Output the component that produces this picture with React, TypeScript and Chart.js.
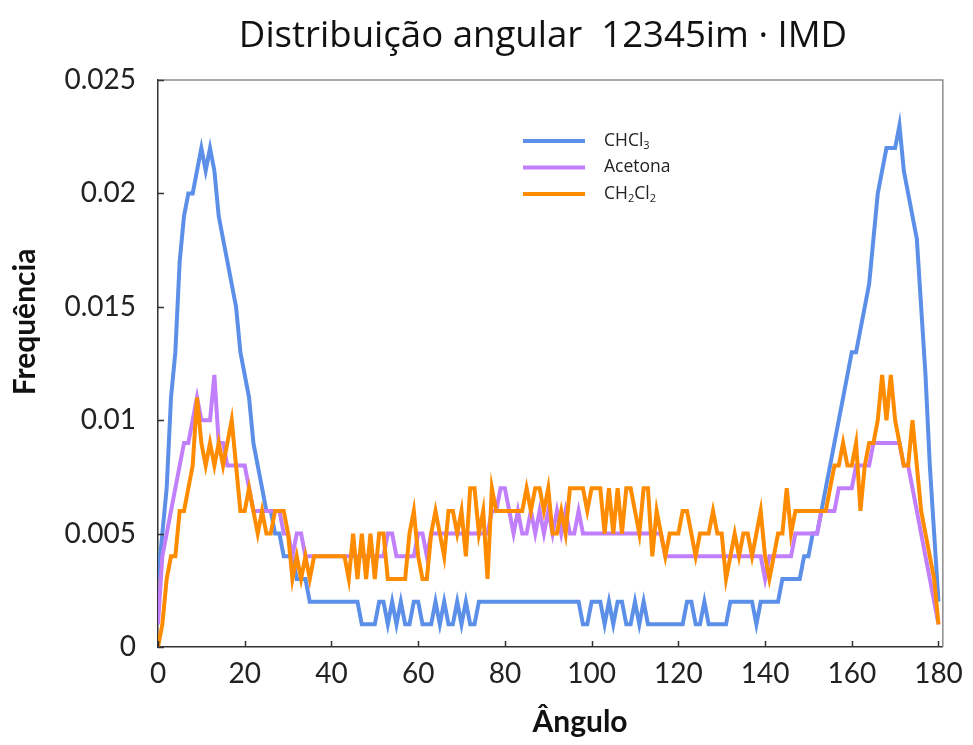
import React, { useEffect, useRef } from "react";
import { Chart, registerables } from "chart.js";

Chart.register(...registerables);

const TITLE = "Distribuição angular  12345im · IMD";
const X_TITLE = "Ângulo";
const Y_TITLE = "Frequência";

const seriesNames = ["CHCl₃", "Acetona", "CH₂Cl₂"];
const seriesColors = ["#5b8fe8", "#c27ffb", "#ff8c00"];

const xTickLabels = ["0", "20", "40", "60", "80", "100", "120", "140", "160", "180"];
const yTickLabels = ["0", "0.005", "0.01", "0.015", "0.02", "0.025"];

const angles = [
  0, 1, 2, 3, 4, 5, 6, 7, 8, 9, 10, 11, 12, 13, 14, 15, 16, 17, 18, 19,
  20, 21, 22, 23, 24, 25, 26, 27, 28, 29, 30, 31, 32, 33, 34, 35, 36, 37, 38, 39,
  40, 41, 42, 43, 44, 45, 46, 47, 48, 49, 50, 51, 52, 53, 54, 55, 56, 57, 58, 59,
  60, 61, 62, 63, 64, 65, 66, 67, 68, 69, 70, 71, 72, 73, 74, 75, 76, 77, 78, 79,
  80, 81, 82, 83, 84, 85, 86, 87, 88, 89, 90, 91, 92, 93, 94, 95, 96, 97, 98, 99,
  100, 101, 102, 103, 104, 105, 106, 107, 108, 109, 110, 111, 112, 113, 114, 115, 116, 117, 118, 119,
  120, 121, 122, 123, 124, 125, 126, 127, 128, 129, 130, 131, 132, 133, 134, 135, 136, 137, 138, 139,
  140, 141, 142, 143, 144, 145, 146, 147, 148, 149, 150, 151, 152, 153, 154, 155, 156, 157, 158, 159,
  160, 161, 162, 163, 164, 165, 166, 167, 168, 169, 170, 171, 172, 173, 174, 175, 176, 177, 178, 179,
  180,
];

const chcl3 = [
  0.003, 0.005, 0.007, 0.011, 0.013, 0.017, 0.019, 0.02, 0.02, 0.021,
  0.022, 0.021, 0.022, 0.021, 0.019, 0.018, 0.017, 0.016, 0.015, 0.013,
  0.012, 0.011, 0.009, 0.008, 0.007, 0.006, 0.006, 0.005, 0.005, 0.004,
  0.004, 0.004, 0.003, 0.003, 0.003, 0.002, 0.002, 0.002, 0.002, 0.002,
  0.002, 0.002, 0.002, 0.002, 0.002, 0.002, 0.002, 0.001, 0.001, 0.001,
  0.001, 0.002, 0.002, 0.001, 0.002, 0.001, 0.002, 0.001, 0.001, 0.002,
  0.002, 0.001, 0.001, 0.001, 0.002, 0.001, 0.002, 0.001, 0.001, 0.002,
  0.001, 0.002, 0.001, 0.001, 0.002, 0.002, 0.002, 0.002, 0.002, 0.002,
  0.002, 0.002, 0.002, 0.002, 0.002, 0.002, 0.002, 0.002, 0.002, 0.002,
  0.002, 0.002, 0.002, 0.002, 0.002, 0.002, 0.002, 0.002, 0.001, 0.001,
  0.002, 0.002, 0.002, 0.001, 0.002, 0.001, 0.002, 0.002, 0.001, 0.001,
  0.002, 0.001, 0.002, 0.001, 0.001, 0.001, 0.001, 0.001, 0.001, 0.001,
  0.001, 0.001, 0.002, 0.002, 0.001, 0.001, 0.002, 0.001, 0.001, 0.001,
  0.001, 0.001, 0.002, 0.002, 0.002, 0.002, 0.002, 0.002, 0.001, 0.002,
  0.002, 0.002, 0.002, 0.002, 0.003, 0.003, 0.003, 0.003, 0.003, 0.004,
  0.004, 0.005, 0.005, 0.006, 0.007, 0.008, 0.009, 0.01, 0.011, 0.012,
  0.013, 0.013, 0.014, 0.015, 0.016, 0.018, 0.02, 0.021, 0.022, 0.022,
  0.022, 0.023, 0.021, 0.02, 0.019, 0.018, 0.015, 0.012, 0.008, 0.005,
  0.002,
];

const acetona = [
  0.001, 0.004, 0.005, 0.006, 0.007, 0.008, 0.009, 0.009, 0.01, 0.011,
  0.01, 0.01, 0.01, 0.012, 0.009, 0.009, 0.008, 0.008, 0.008, 0.008,
  0.008, 0.007, 0.006, 0.006, 0.006, 0.006, 0.006, 0.006, 0.006, 0.005,
  0.005, 0.004, 0.005, 0.005, 0.004, 0.004, 0.004, 0.004, 0.004, 0.004,
  0.004, 0.004, 0.004, 0.004, 0.004, 0.004, 0.004, 0.004, 0.004, 0.004,
  0.004, 0.004, 0.004, 0.005, 0.005, 0.004, 0.004, 0.004, 0.004, 0.004,
  0.005, 0.005, 0.004, 0.005, 0.005, 0.005, 0.005, 0.005, 0.005, 0.005,
  0.005, 0.005, 0.005, 0.005, 0.005, 0.005, 0.005, 0.006, 0.006, 0.007,
  0.007, 0.006, 0.005, 0.006, 0.005, 0.005, 0.006, 0.005, 0.006, 0.005,
  0.006, 0.005, 0.006, 0.005, 0.006, 0.005, 0.005, 0.006, 0.005, 0.005,
  0.005, 0.005, 0.005, 0.005, 0.005, 0.005, 0.005, 0.005, 0.005, 0.005,
  0.005, 0.005, 0.005, 0.005, 0.005, 0.005, 0.005, 0.004, 0.004, 0.004,
  0.004, 0.004, 0.004, 0.004, 0.004, 0.004, 0.004, 0.004, 0.004, 0.004,
  0.004, 0.004, 0.004, 0.004, 0.004, 0.004, 0.004, 0.004, 0.004, 0.004,
  0.003, 0.004, 0.004, 0.004, 0.004, 0.004, 0.004, 0.005, 0.005, 0.005,
  0.005, 0.005, 0.005, 0.006, 0.006, 0.006, 0.006, 0.007, 0.007, 0.007,
  0.007, 0.008, 0.008, 0.008, 0.008, 0.009, 0.009, 0.009, 0.009, 0.009,
  0.009, 0.009, 0.008, 0.008, 0.007, 0.006, 0.005, 0.004, 0.003, 0.002,
  0.001,
];

const ch2cl2 = [
  0, 0.001, 0.003, 0.004, 0.004, 0.006, 0.006, 0.007, 0.008, 0.011,
  0.009, 0.008, 0.009, 0.008, 0.009, 0.008, 0.009, 0.01, 0.008, 0.006,
  0.006, 0.007, 0.006, 0.005, 0.006, 0.005, 0.005, 0.006, 0.006, 0.006,
  0.005, 0.003, 0.004, 0.003, 0.004, 0.003, 0.004, 0.004, 0.004, 0.004,
  0.004, 0.004, 0.004, 0.004, 0.003, 0.005, 0.003, 0.005, 0.003, 0.005,
  0.003, 0.005, 0.005, 0.003, 0.003, 0.003, 0.003, 0.003, 0.005, 0.006,
  0.004, 0.003, 0.003, 0.005, 0.006, 0.005, 0.004, 0.006, 0.006, 0.005,
  0.006, 0.004, 0.007, 0.007, 0.005, 0.006, 0.003, 0.007, 0.006, 0.006,
  0.006, 0.006, 0.006, 0.006, 0.006, 0.007, 0.006, 0.007, 0.007, 0.006,
  0.007, 0.005, 0.005, 0.006, 0.005, 0.007, 0.007, 0.007, 0.007, 0.006,
  0.007, 0.007, 0.007, 0.005, 0.007, 0.005, 0.007, 0.005, 0.007, 0.007,
  0.006, 0.005, 0.007, 0.007, 0.004, 0.006, 0.005, 0.004, 0.005, 0.005,
  0.005, 0.006, 0.006, 0.005, 0.004, 0.005, 0.005, 0.005, 0.006, 0.005,
  0.005, 0.003, 0.004, 0.005, 0.004, 0.005, 0.005, 0.004, 0.005, 0.006,
  0.004, 0.003, 0.004, 0.005, 0.005, 0.007, 0.005, 0.006, 0.006, 0.006,
  0.006, 0.006, 0.006, 0.006, 0.006, 0.007, 0.008, 0.008, 0.009, 0.008,
  0.008, 0.009, 0.006, 0.008, 0.009, 0.009, 0.01, 0.012, 0.01, 0.012,
  0.01, 0.009, 0.008, 0.008, 0.01, 0.008, 0.006, 0.005, 0.004, 0.003,
  0.001,
];

const seriesValues = [chcl3, acetona, ch2cl2];

const FONT = "Lato, 'Open Sans', sans-serif";
const TITLE_FONT = "'Open Sans', Lato, sans-serif";

const framePlugin = {
  id: "frameTicks",
  afterDatasetsDraw(chart: any) {
    const { ctx, chartArea: a, scales } = chart;
    ctx.save();
    ctx.lineWidth = 1.5;
    ctx.strokeStyle = "#8c8c8c";
    ctx.beginPath();
    ctx.moveTo(a.left, a.top);
    ctx.lineTo(a.right, a.top);
    ctx.lineTo(a.right, a.bottom);
    ctx.stroke();
    ctx.strokeStyle = "#333";
    ctx.beginPath();
    scales.x.ticks.forEach((t: any) => {
      const px = Math.round(scales.x.getPixelForValue(t.value)) + 0.5;
      ctx.moveTo(px, a.bottom);
      ctx.lineTo(px, a.bottom - 6);
    });
    scales.y.ticks.forEach((t: any) => {
      const py = Math.round(scales.y.getPixelForValue(t.value)) + 0.5;
      ctx.moveTo(a.left, py);
      ctx.lineTo(a.left + 6, py);
    });
    ctx.stroke();
    ctx.restore();
  },
};

const titlesPlugin = {
  id: "titles",
  afterDraw(chart: any) {
    const { ctx, chartArea: a } = chart;
    ctx.save();
    ctx.fillStyle = "#111";
    ctx.textAlign = "center";
    ctx.textBaseline = "alphabetic";
    ctx.font = `36.6px ${TITLE_FONT}`;
    ctx.fillText(TITLE, a.left + 385, a.top - 33);
    ctx.font = `bold 30px ${FONT}`;
    ctx.fillText(X_TITLE, a.left + 422, a.bottom + 85);
    ctx.translate(25, a.top + 242);
    ctx.rotate(-Math.PI / 2);
    ctx.textBaseline = "middle";
    ctx.fillText(Y_TITLE, 0, 0);
    ctx.restore();
  },
};

const SUBS = "₀₁₂₃₄₅₆₇₈₉";

function drawRich(ctx: CanvasRenderingContext2D, text: string, x: number, y: number, size: number) {
  let cx = x;
  for (const ch of Array.from(text)) {
    const si = SUBS.indexOf(ch);
    if (si >= 0) {
      ctx.font = `${Math.round(size * 0.62)}px ${TITLE_FONT}`;
      ctx.fillText(String(si), cx, y + size * 0.28);
      cx += ctx.measureText(String(si)).width;
    } else {
      ctx.font = `${size}px ${TITLE_FONT}`;
      ctx.fillText(ch, cx, y);
      cx += ctx.measureText(ch).width;
    }
  }
}

const legendPlugin = {
  id: "inlineLegend",
  afterDraw(chart: any) {
    const { ctx, chartArea: a } = chart;
    ctx.save();
    const x0 = a.left + 365;
    const lineLen = 62;
    const textX = a.left + 446;
    const y0 = a.top + 61;
    const gap = 26.5;
    chart.data.datasets.forEach((ds: any, i: number) => {
      const y = y0 + i * gap;
      ctx.strokeStyle = ds.borderColor;
      ctx.lineWidth = 4;
      ctx.beginPath();
      ctx.moveTo(x0, y);
      ctx.lineTo(x0 + lineLen, y);
      ctx.stroke();
      ctx.fillStyle = "#222";
      ctx.textBaseline = "middle";
      ctx.textAlign = "left";
      drawRich(ctx, ds.label, textX, y, 17.5);
    });
    ctx.restore();
  },
};

export default function App() {
  const canvasRef = useRef<HTMLCanvasElement | null>(null);

  useEffect(() => {
    document.body.style.margin = "0";
    const canvas = canvasRef.current;
    if (!canvas) return;
    const datasets = seriesValues.map((vals, i) => ({
      label: seriesNames[i],
      data: angles.map((x, j) => ({ x, y: vals[j] })),
      borderColor: seriesColors[i],
      backgroundColor: seriesColors[i],
      borderWidth: 4,
      pointRadius: 0,
      tension: 0,
      fill: false,
      order: 3 - i,
    }));
    const chart = new Chart(canvas, {
      type: "line",
      data: { datasets },
      options: {
        animation: false,
        responsive: false,
        maintainAspectRatio: false,
        layout: { padding: { left: 0, right: 26, top: 80, bottom: 0 } },
        plugins: {
          legend: { display: false },
          tooltip: { enabled: false },
          title: { display: false },
        },
        scales: {
          x: {
            type: "linear",
            min: 0,
            max: 181,
            grid: { display: false, drawTicks: false },
            border: { display: true, color: "#333", width: 1.5 },
            ticks: {
              stepSize: 20,
              includeBounds: false,
              padding: 10,
              color: "#222",
              font: { family: FONT, size: 28 },
              maxRotation: 0,
              callback: (v: any) => xTickLabels[Math.round(Number(v) / 20)] ?? "",
            },
            title: { display: false },
            afterFit: (s: any) => {
              s.height = 98;
            },
          },
          y: {
            type: "linear",
            min: 0,
            max: 0.025,
            grid: { display: false, drawTicks: false },
            border: { display: true, color: "#333", width: 1.5 },
            ticks: {
              stepSize: 0.005,
              padding: 22,
              color: "#222",
              font: { family: FONT, size: 28 },
              callback: (v: any) => yTickLabels[Math.round(Number(v) / 0.005)] ?? "",
            },
            title: { display: false },
            afterFit: (s: any) => {
              s.width = 158;
            },
          },
        },
      },
      plugins: [framePlugin, legendPlugin, titlesPlugin],
    });
    return () => chart.destroy();
  }, []);

  return (
    <div style={{ width: 973, height: 745 }}>
      <canvas ref={canvasRef} width={973} height={745} style={{ display: "block", width: 973, height: 745 }} />
    </div>
  );
}
